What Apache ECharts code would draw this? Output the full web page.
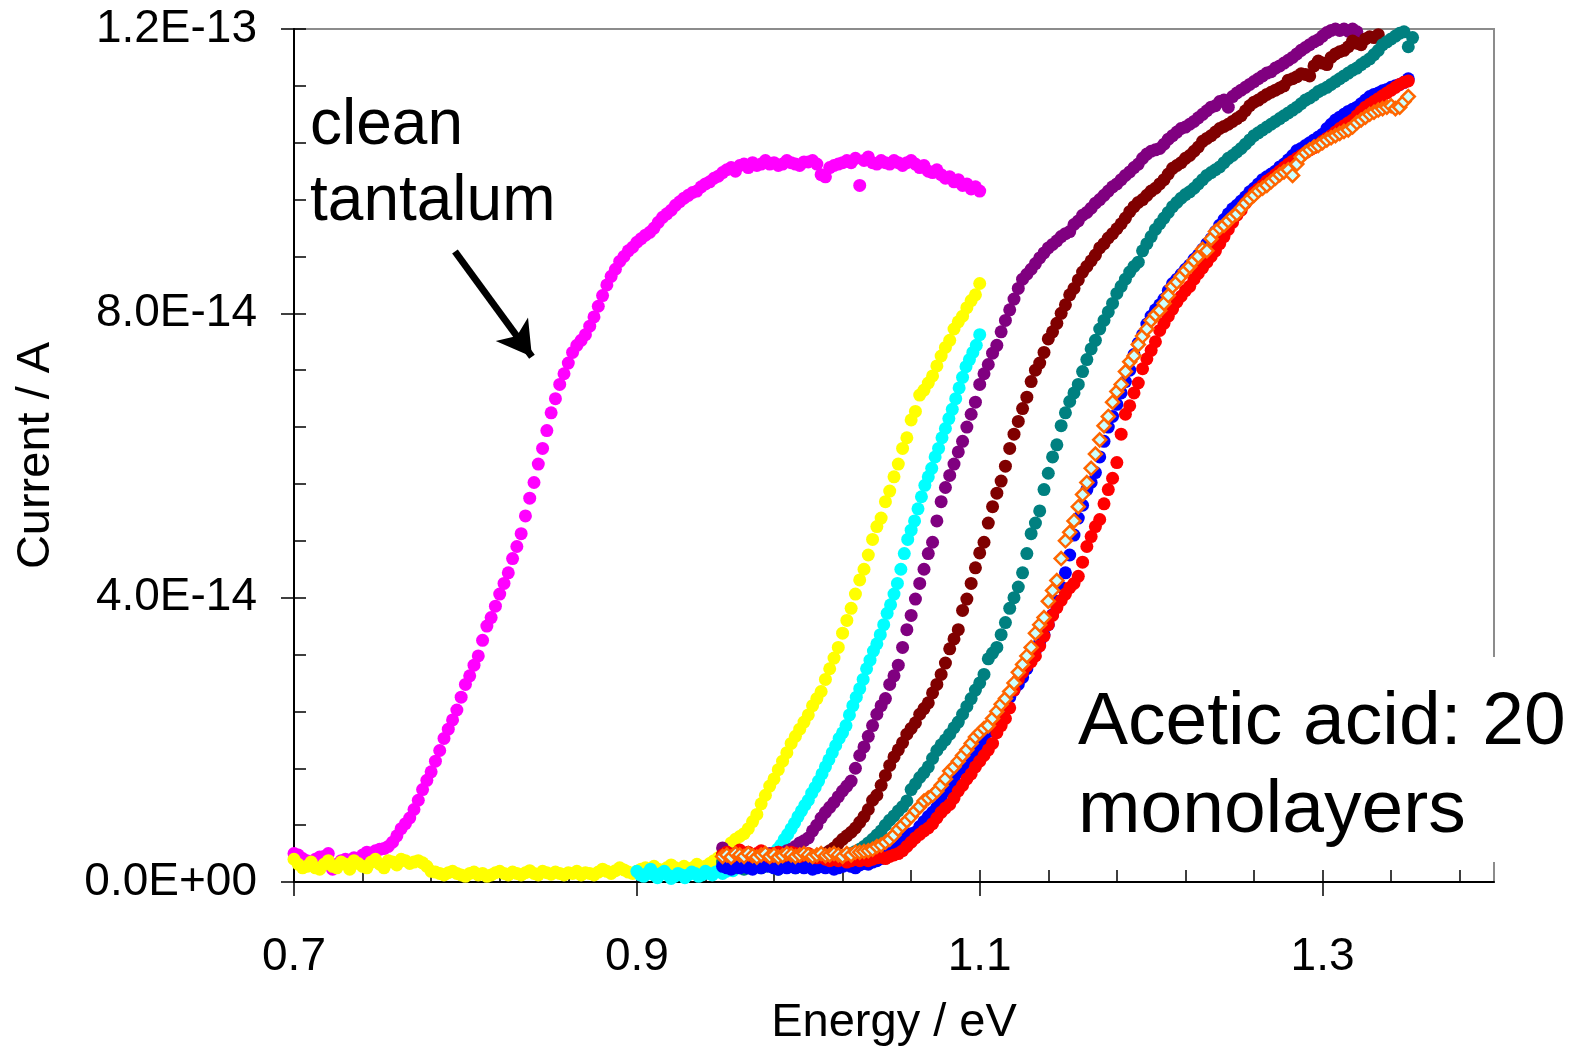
<!DOCTYPE html>
<html>
<head>
<meta charset="utf-8">
<title>Acetic acid: 20 monolayers</title>
<script src="https://cdn.jsdelivr.net/npm/echarts@6/dist/echarts.min.js"></script>
<style>
  html, body { margin: 0; padding: 0; background: #fff; }
  #chart { width: 1574px; height: 1052px; }
</style>
</head>
<body>
<div id="chart"></div>
<script>
// energy grid of the scans (eV): start + i * step
const scanStep = 0.0025;
const cyanStep = 0.002;

// currents, in units of 1E-14 A
const cleanTaStart = 0.7;
const cleanTa = [
  0.40,0.38,0.33,0.30,0.28,0.32,0.35,0.36,0.40,0.18,0.25,0.30,0.32,0.28,0.34,0.32,0.38,0.42,0.40,0.44,
  0.46,0.47,0.50,0.56,0.65,0.75,0.82,0.90,1.02,1.15,1.30,1.43,1.55,1.70,1.85,2.02,2.15,2.28,2.42,2.60,
  2.78,2.90,3.05,3.18,3.40,3.60,3.72,3.88,4.05,4.20,4.35,4.55,4.72,4.90,5.15,5.40,5.62,5.88,6.10,6.35,
  6.60,6.80,7.00,7.15,7.30,7.45,7.55,7.62,7.70,7.82,7.95,8.10,8.25,8.40,8.52,8.62,8.73,8.80,8.88,8.93,
  9.00,9.05,9.10,9.14,9.20,9.28,9.35,9.40,9.45,9.52,9.57,9.62,9.66,9.70,9.72,9.78,9.82,9.85,9.90,9.93,
  9.98,10.02,10.05,10.00,10.08,10.10,10.05,10.12,10.08,10.10,10.15,10.10,10.12,10.08,10.10,10.15,10.12,10.10,10.08,10.13,
  10.13,10.15,10.10,9.95,9.92,10.05,10.08,10.10,10.12,10.15,10.12,10.18,9.80,10.15,10.20,10.12,10.10,10.15,10.12,10.10,
  10.15,10.12,10.08,10.12,10.15,10.10,10.05,10.08,10.00,9.98,10.02,9.95,9.90,9.92,9.85,9.88,9.80,9.82,9.75,9.78,
  9.72
];

const yellowStart = 0.7;
const yellow = [
  0.32,0.25,0.20,0.22,0.28,0.20,0.18,0.25,0.30,0.22,0.20,0.28,0.25,0.18,0.30,0.26,0.22,0.20,0.28,0.32,
  0.25,0.20,0.30,0.28,0.24,0.32,0.30,0.26,0.28,0.30,0.27,0.22,0.15,0.14,0.12,0.10,0.13,0.15,0.12,0.10,
  0.08,0.12,0.14,0.10,0.12,0.08,0.10,0.13,0.15,0.12,0.10,0.14,0.12,0.10,0.13,0.16,0.12,0.10,0.15,0.13,
  0.11,0.14,0.12,0.10,0.13,0.12,0.15,0.10,0.13,0.12,0.10,0.14,0.18,0.15,0.12,0.16,0.20,0.17,0.14,0.12,
  0.15,0.18,0.20,0.16,0.22,0.18,0.15,0.20,0.24,0.20,0.17,0.22,0.18,0.20,0.25,0.21,0.22,0.26,0.30,0.34,
  0.40,0.48,0.55,0.60,0.64,0.68,0.75,0.85,0.95,1.10,1.22,1.35,1.45,1.58,1.70,1.82,1.95,2.05,2.15,2.25,
  2.35,2.48,2.58,2.68,2.85,3.00,3.15,3.30,3.50,3.68,3.85,4.05,4.25,4.40,4.60,4.82,5.00,5.12,5.35,5.50,
  5.70,5.88,6.10,6.25,6.50,6.62,6.85,6.92,7.02,7.12,7.26,7.40,7.52,7.62,7.78,7.88,7.96,8.08,8.18,8.26,
  8.42
];

const cyanStart = 0.9;
const cyan = [
  0.15,0.10,0.08,0.12,0.18,0.10,0.06,0.12,0.15,0.10,0.05,0.08,0.12,0.10,0.06,0.10,0.14,0.12,0.08,0.10,
  0.15,0.12,0.10,0.14,0.16,0.12,0.15,0.18,0.16,0.20,0.20,0.22,0.20,0.24,0.22,0.25,0.28,0.26,0.30,0.34,
  0.40,0.46,0.52,0.60,0.67,0.75,0.83,0.92,1.00,1.08,1.15,1.25,1.33,1.42,1.52,1.62,1.72,1.82,1.92,2.02,
  2.10,2.20,2.35,2.48,2.60,2.72,2.85,3.00,3.12,3.25,3.35,3.48,3.62,3.78,3.90,4.05,4.20,4.40,4.62,4.82,
  4.95,5.08,5.25,5.42,5.58,5.70,5.82,5.98,6.10,6.25,6.38,6.52,6.65,6.80,6.95,7.10,7.25,7.35,7.45,7.55,
  7.70
];

const purpleStart = 0.95;
const purple = [
  0.48,0.42,0.38,0.40,0.36,0.38,0.40,0.35,0.38,0.42,0.36,0.40,0.38,0.42,0.40,0.44,0.46,0.50,0.55,0.58,
  0.62,0.72,0.80,0.90,0.98,1.05,1.12,1.20,1.28,1.35,1.42,1.60,1.78,1.90,2.05,2.20,2.36,2.48,2.58,2.78,
  2.90,3.05,3.30,3.55,3.75,3.98,4.20,4.40,4.62,4.78,5.08,5.35,5.55,5.72,5.88,6.05,6.20,6.40,6.58,6.75,
  7.00,7.15,7.28,7.44,7.55,7.74,7.90,8.05,8.20,8.35,8.48,8.55,8.62,8.70,8.78,8.85,8.92,8.97,9.02,9.08,
  9.12,9.15,9.25,9.30,9.38,9.42,9.48,9.55,9.60,9.66,9.72,9.78,9.82,9.88,9.94,9.99,10.05,10.10,10.18,10.24,
  10.28,10.30,10.32,10.38,10.45,10.50,10.55,10.60,10.62,10.66,10.70,10.75,10.80,10.85,10.90,10.92,10.98,11.00,10.90,11.05,
  11.10,11.14,11.18,11.22,11.26,11.30,11.34,11.38,11.40,11.45,11.48,11.52,11.56,11.60,11.65,11.70,11.74,11.78,11.82,11.85,
  11.90,11.95,11.98,12.00,11.98,12.00,11.97,12.00,11.96
];

const maroonStart = 0.95;
const maroon = [
  0.38,0.35,0.32,0.30,0.28,0.32,0.30,0.28,0.30,0.32,0.30,0.28,0.30,0.33,0.30,0.32,0.35,0.33,0.30,0.34,
  0.35,0.33,0.36,0.38,0.40,0.44,0.48,0.54,0.60,0.65,0.70,0.76,0.84,0.92,1.02,1.15,1.22,1.36,1.50,1.64,
  1.76,1.86,1.96,2.08,2.16,2.24,2.36,2.44,2.52,2.66,2.78,2.92,3.08,3.28,3.42,3.55,3.82,3.98,4.20,4.42,
  4.63,4.78,5.05,5.28,5.47,5.64,5.85,6.10,6.30,6.48,6.66,6.82,7.04,7.20,7.30,7.45,7.64,7.74,7.86,8.00,
  8.12,8.26,8.35,8.47,8.58,8.66,8.74,8.82,8.92,8.98,9.06,9.12,9.19,9.26,9.34,9.43,9.50,9.56,9.60,9.66,
  9.72,9.76,9.82,9.88,9.96,10.04,10.08,10.12,10.18,10.22,10.28,10.34,10.42,10.46,10.50,10.55,10.60,10.63,10.66,10.70,
  10.74,10.78,10.85,10.92,10.97,11.00,11.04,11.08,11.11,11.14,11.17,11.20,11.28,11.30,11.33,11.37,11.36,11.34,11.48,11.55,
  11.52,11.50,11.60,11.65,11.68,11.70,11.75,11.83,11.80,11.78,11.86,11.89,11.88,11.92
];

const tealStart = 0.95;
const teal = [
  0.28,0.25,0.22,0.20,0.22,0.18,0.20,0.22,0.25,0.20,0.22,0.24,0.20,0.18,0.22,0.25,0.22,0.20,0.24,0.22,
  0.25,0.22,0.24,0.26,0.28,0.30,0.32,0.35,0.36,0.38,0.40,0.43,0.46,0.50,0.55,0.60,0.66,0.72,0.80,0.87,
  0.93,1.00,1.06,1.14,1.30,1.38,1.47,1.54,1.62,1.74,1.85,1.93,2.00,2.08,2.17,2.25,2.36,2.47,2.58,2.70,
  2.80,2.92,3.14,3.22,3.30,3.48,3.65,3.85,4.00,4.15,4.35,4.62,4.90,5.05,5.22,5.52,5.75,5.98,6.15,6.42,
  6.60,6.76,6.88,7.00,7.18,7.35,7.50,7.62,7.78,7.90,8.02,8.14,8.28,8.38,8.48,8.58,8.66,8.72,8.88,8.98,
  9.08,9.18,9.26,9.34,9.42,9.50,9.56,9.62,9.67,9.71,9.76,9.82,9.88,9.94,9.98,10.02,10.06,10.12,10.18,10.22,
  10.27,10.32,10.38,10.44,10.50,10.54,10.58,10.62,10.66,10.70,10.74,10.78,10.82,10.86,10.90,10.95,11.00,11.03,11.07,11.12,
  11.15,11.18,11.22,11.26,11.30,11.34,11.38,11.42,11.45,11.50,11.54,11.58,11.64,11.70,11.78,11.82,11.86,11.90,11.94,11.96,
  11.75,11.88
];

const blueStart = 0.95;
const blue = [
  0.22,0.20,0.18,0.22,0.20,0.24,0.20,0.18,0.22,0.20,0.24,0.22,0.20,0.18,0.22,0.20,0.24,0.20,0.22,0.20,
  0.22,0.18,0.20,0.24,0.20,0.22,0.18,0.20,0.22,0.24,0.22,0.20,0.24,0.26,0.25,0.28,0.30,0.33,0.38,0.42,
  0.48,0.52,0.62,0.66,0.68,0.70,0.78,0.85,0.92,0.98,1.05,1.18,1.28,1.35,1.45,1.55,1.62,1.70,1.78,1.86,
  1.95,2.02,2.12,2.22,2.32,2.44,2.52,2.60,2.70,2.78,2.88,3.00,3.14,3.26,3.38,3.48,3.62,3.76,3.95,4.15,
  4.35,4.60,4.88,5.12,5.30,5.52,5.62,5.76,5.98,6.20,6.40,6.55,6.72,6.88,7.04,7.20,7.42,7.58,7.70,7.85,
  7.96,8.05,8.12,8.20,8.32,8.42,8.48,8.55,8.62,8.68,8.76,8.82,8.90,8.98,9.05,9.15,9.24,9.32,9.40,9.47,
  9.52,9.58,9.64,9.71,9.76,9.82,9.88,9.92,9.96,10.00,10.06,10.10,10.16,10.22,10.29,10.32,10.36,10.40,10.44,10.48,
  10.52,10.60,10.66,10.72,10.76,10.80,10.84,10.87,10.90,10.95,11.00,11.05,11.08,11.10,11.13,11.15,11.18,11.20,11.22,11.25,
  11.30
];

const redStart = 0.95;
const red = [
  0.38,0.42,0.35,0.40,0.45,0.38,0.42,0.36,0.40,0.44,0.38,0.35,0.40,0.42,0.36,0.38,0.42,0.40,0.36,0.38,
  0.40,0.36,0.34,0.38,0.32,0.30,0.34,0.30,0.32,0.28,0.30,0.32,0.30,0.33,0.30,0.32,0.34,0.35,0.33,0.36,
  0.38,0.40,0.44,0.50,0.56,0.62,0.67,0.72,0.76,0.82,0.90,0.98,1.04,1.09,1.18,1.28,1.36,1.45,1.52,1.62,
  1.70,1.78,1.86,1.95,2.10,2.20,2.30,2.45,2.70,2.85,2.95,3.04,3.10,3.18,3.32,3.46,3.62,3.75,3.86,3.96,
  4.05,4.14,4.20,4.30,4.50,4.72,4.86,5.00,5.10,5.32,5.52,5.68,5.90,6.30,6.58,6.70,6.88,7.02,7.22,7.36,
  7.48,7.60,7.76,7.86,7.96,8.06,8.16,8.24,8.32,8.38,8.48,8.56,8.64,8.72,8.80,8.88,8.98,9.08,9.18,9.28,
  9.38,9.45,9.55,9.62,9.70,9.75,9.80,9.86,9.90,9.95,10.00,10.05,10.10,10.14,10.18,10.22,10.26,10.30,10.33,10.37,
  10.42,10.46,10.50,10.55,10.60,10.64,10.68,10.72,10.78,10.84,10.90,10.94,10.98,11.02,11.06,11.10,11.14,11.18,11.22,11.25,
  11.27
];

const orangeStart = 0.95;
const orange = [
  0.36,0.38,0.35,0.40,0.38,0.36,0.40,0.37,0.35,0.38,0.40,0.36,0.38,0.35,0.37,0.40,0.38,0.36,0.38,0.40,
  0.38,0.36,0.38,0.40,0.37,0.38,0.40,0.38,0.36,0.40,0.38,0.42,0.42,0.43,0.44,0.46,0.50,0.52,0.56,0.60,
  0.66,0.74,0.80,0.86,0.92,1.00,1.06,1.14,1.18,1.22,1.28,1.36,1.45,1.56,1.62,1.70,1.78,1.86,1.95,2.04,
  2.10,2.16,2.20,2.30,2.40,2.50,2.58,2.68,2.80,2.95,3.06,3.18,3.30,3.50,3.62,3.72,3.95,4.10,4.24,4.55,
  4.80,4.92,5.08,5.28,5.45,5.62,5.82,6.02,6.22,6.42,6.55,6.75,6.90,7.00,7.18,7.32,7.40,7.56,7.68,7.78,
  7.90,7.98,8.04,8.14,8.25,8.38,8.44,8.52,8.60,8.66,8.74,8.80,8.90,8.88,9.05,9.15,9.20,9.24,9.30,9.36,
  9.40,9.48,9.55,9.61,9.66,9.72,9.76,9.80,9.85,9.90,9.95,9.99,10.02,9.94,10.10,10.20,10.26,10.30,10.34,10.36,
  10.40,10.44,10.47,10.50,10.53,10.56,10.58,10.62,10.68,10.72,10.76,10.80,10.83,10.86,10.88,10.90,10.92,10.88,10.90,10.98,
  11.05
];

// axis ticks
const xMajorTicks = [0.7, 0.9, 1.1, 1.3];
const xMinorTicks = [0.7,0.74,0.78,0.82,0.86,0.9,0.94,0.98,1.02,1.06,1.1,1.14,1.18,1.22,1.26,1.3,1.34,1.38];
const yMajorTicks = [0, 4, 8, 12];
const yMinorTicks = [0,0.8,1.6,2.4,3.2,4,4.8,5.6,6.4,7.2,8,8.8,9.6,10.4,11.2,12];

// arrow pointing at the clean tantalum curve (data coords)
const arrowFrom = [0.7939, 8.87];
const arrowTo = [0.8388, 7.39];

const FONT = "'Liberation Sans', Arial, sans-serif";

function toPairs(start, step, values) {
  return values.map((v, i) => [+(start + i * step).toFixed(4), v]);
}

function formatAmps(value) {
  const [mant, exp] = (value * 1e-14).toExponential(1).split("e");
  const n = parseInt(exp, 10);
  const sign = n < 0 ? "-" : "+";
  return mant + "E" + sign + String(Math.abs(n)).padStart(2, "0");
}

function dotSeries(name, color, start, step, values) {
  return {
    type: "scatter",
    name,
    data: toPairs(start, step, values),
    symbol: "circle",
    symbolSize: 13,
    itemStyle: { color, opacity: 1 },
    clip: false,
    silent: true,
  };
}

const chart = echarts.init(document.getElementById("chart"), null, { renderer: "canvas" });

const magentaSeries = dotSeries("clean tantalum", "#FF00FF", cleanTaStart, scanStep, cleanTa);
magentaSeries.markLine = {
  silent: true,
  symbol: ["none", "arrow"],
  symbolSize: [30, 34],
  label: { show: false },
  lineStyle: { color: "#000", width: 7, type: "solid", opacity: 1 },
  data: [[{ coord: arrowFrom }, { coord: arrowTo }]],
  animation: false,
};

const option = {
  animation: false,
  backgroundColor: "#fff",
  textStyle: { fontFamily: FONT },
  grid: {
    left: 294,
    right: 80,
    top: 29,
    bottom: 166,
    show: true,
    borderColor: "#8c8c8c",
    borderWidth: 2,
    backgroundColor: "transparent",
  },
  xAxis: [
    {
      type: "value",
      min: 0.7,
      max: 1.4,
      position: "bottom",
      name: "Energy / eV",
      nameLocation: "middle",
      nameGap: 118,
      nameTextStyle: { color: "#000", fontSize: 47, fontFamily: FONT },
      axisLine: { show: true, onZero: false, lineStyle: { color: "#000", width: 2 } },
      axisTick: { show: true, inside: false, length: 14, customValues: xMajorTicks, lineStyle: { color: "#000", width: 1.5 } },
      axisLabel: {
        customValues: xMajorTicks,
        color: "#000",
        fontSize: 46,
        fontFamily: FONT,
        margin: 52,
        formatter: (v) => v.toFixed(1),
      },
      splitLine: { show: false },
    },
    {
      type: "value",
      min: 0.7,
      max: 1.4,
      position: "bottom",
      axisLine: { show: false },
      axisTick: { show: true, inside: true, length: 12, customValues: xMinorTicks, lineStyle: { color: "#000", width: 1.5 } },
      axisLabel: { show: false },
      splitLine: { show: false },
    },
  ],
  yAxis: [
    {
      type: "value",
      min: 0,
      max: 12,
      position: "left",
      name: "Current / A",
      nameLocation: "middle",
      nameGap: 234,
      nameRotate: 90,
      nameTextStyle: { color: "#000", fontSize: 47, fontFamily: FONT },
      axisLine: { show: true, onZero: false, lineStyle: { color: "#000", width: 2 } },
      axisTick: { show: true, inside: false, length: 13, customValues: yMajorTicks, lineStyle: { color: "#000", width: 1.5 } },
      axisLabel: {
        customValues: yMajorTicks,
        color: "#000",
        fontSize: 46,
        fontFamily: FONT,
        margin: 37,
        formatter: formatAmps,
      },
      splitLine: { show: false },
    },
    {
      type: "value",
      min: 0,
      max: 12,
      position: "left",
      axisLine: { show: false },
      axisTick: { show: true, inside: true, length: 12, customValues: yMinorTicks, lineStyle: { color: "#000", width: 1.5 } },
      axisLabel: { show: false },
      splitLine: { show: false },
    },
  ],
  graphic: [
    { type: "text", left: 310, top: 94, style: { text: "clean", font: "64px " + FONT, fill: "#000", verticalAlign: "middle" } },
    { type: "text", left: 310, top: 170, style: { text: "tantalum", font: "64px " + FONT, fill: "#000", verticalAlign: "middle" } },
    { type: "rect", left: 1070, top: 657, z: 100, shape: { width: 504, height: 205 }, style: { fill: "#fff" } },
    { type: "text", left: 1078, top: 686, z: 101, style: { text: "Acetic acid: 20", font: "75px " + FONT, fill: "#000", verticalAlign: "middle" } },
    { type: "text", left: 1078, top: 774, z: 101, style: { text: "monolayers", font: "75px " + FONT, fill: "#000", verticalAlign: "middle" } },
  ],
  series: [
    magentaSeries,
    dotSeries("yellow", "#FFFF00", yellowStart, scanStep, yellow),
    dotSeries("cyan", "#00FFFF", cyanStart, cyanStep, cyan),
    dotSeries("purple", "#800080", purpleStart, scanStep, purple),
    dotSeries("maroon", "#800000", maroonStart, scanStep, maroon),
    dotSeries("teal", "#008080", tealStart, scanStep, teal),
    dotSeries("blue", "#0000FF", blueStart, scanStep, blue),
    dotSeries("red", "#FF0000", redStart, scanStep, red),
    {
      type: "scatter",
      name: "orange",
      data: toPairs(orangeStart, scanStep, orange),
      symbol: "diamond",
      symbolSize: 13,
      itemStyle: { color: "#CCFFFF", borderColor: "#FF6600", borderWidth: 2.5, opacity: 1 },
      clip: false,
      silent: true,
    },
  ],
};

chart.setOption(option);
</script>
</body>
</html>
